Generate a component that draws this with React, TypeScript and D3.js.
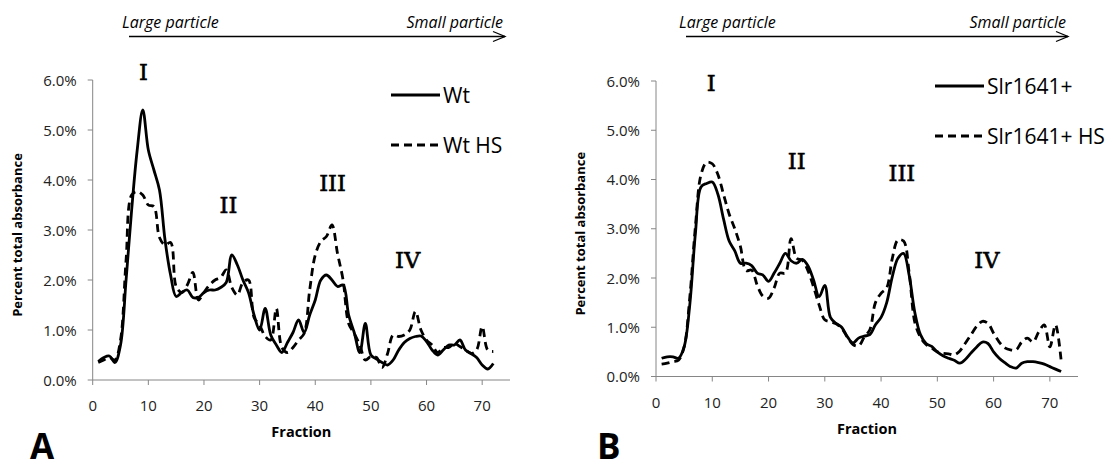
import React from "react";
import * as d3 from "d3";

const fractions = d3.range(1, 73);

const wt = [0.37,0.45,0.48,0.35,0.7,2.0,3.4,4.6,5.4,4.6,4.2,3.8,2.8,2.1,1.67,1.75,1.8,1.65,1.65,1.75,1.8,1.8,1.85,1.95,2.5,2.3,2.0,1.75,1.3,1.0,1.43,0.9,0.7,0.55,0.75,0.95,1.2,0.95,1.3,1.6,2.0,2.1,2.0,1.87,1.9,1.3,0.95,0.55,1.13,0.5,0.42,0.35,0.3,0.4,0.6,0.75,0.83,0.87,0.88,0.77,0.6,0.5,0.6,0.7,0.7,0.8,0.6,0.53,0.45,0.3,0.22,0.33];
const wtHS = [0.35,0.4,0.45,0.4,0.8,2.4,3.7,3.77,3.7,3.5,3.47,2.85,2.7,2.75,1.87,1.75,1.9,2.15,1.6,1.75,1.9,2.0,2.05,2.2,1.85,1.7,1.95,2.0,1.25,1.1,0.87,0.8,1.43,0.65,0.55,0.65,0.8,0.93,1.8,2.5,2.77,2.87,3.1,2.53,2.0,1.13,0.93,0.7,0.4,0.47,0.45,0.25,0.53,0.9,0.87,0.9,1.0,1.37,1.0,0.8,0.7,0.55,0.65,0.65,0.73,0.67,0.6,0.53,0.6,1.07,0.6,0.57];
const slr = [0.37,0.4,0.4,0.37,0.6,1.45,2.9,3.85,3.92,3.95,3.7,3.2,2.75,2.55,2.3,2.3,2.25,2.1,2.06,1.93,2.1,2.3,2.5,2.35,2.3,2.38,2.25,1.96,1.62,1.85,1.2,1.08,1.0,0.81,0.68,0.78,0.82,0.85,1.05,1.2,1.5,2.03,2.4,2.5,2.05,1.3,0.85,0.67,0.61,0.5,0.42,0.37,0.33,0.27,0.35,0.48,0.6,0.7,0.67,0.5,0.37,0.28,0.2,0.17,0.27,0.3,0.3,0.28,0.25,0.2,0.15,0.1];
const slrHS = [0.25,0.27,0.3,0.33,0.6,1.6,3.04,4.1,4.35,4.32,4.1,3.7,3.3,3.0,2.64,2.15,2.16,1.85,1.63,1.59,1.8,2.1,2.1,2.8,2.4,2.36,2.15,1.82,1.45,1.15,1.11,1.07,0.98,0.8,0.65,0.62,0.8,0.95,1.5,1.69,1.8,2.4,2.77,2.75,2.1,1.1,0.8,0.65,0.58,0.5,0.47,0.46,0.44,0.52,0.68,0.85,1.02,1.12,1.08,0.88,0.7,0.58,0.54,0.54,0.7,0.78,0.7,0.9,1.05,0.6,1.05,0.33];

const xTicks = [0, 10, 20, 30, 40, 50, 60, 70];
const yTicks = [0, 1, 2, 3, 4, 5, 6];
const romanA = [
  { label: "I", f: 9.1, v: 6.0 },
  { label: "II", f: 24.4, v: 3.34 },
  { label: "III", f: 43.1, v: 3.78 },
  { label: "IV", f: 56.6, v: 2.24 },
];
const romanB = [
  { label: "I", f: 9.8, v: 5.8 },
  { label: "II", f: 25, v: 4.21 },
  { label: "III", f: 43.7, v: 3.97 },
  { label: "IV", f: 58.8, v: 2.2 },
];

const sans = "'Open Sans', 'Noto Sans', sans-serif";
const serif = "'DejaVu Serif', 'Liberation Serif', serif";

type PanelProps = {
  x0: number; x1: number; y0: number; y6: number;
  solid: number[]; dashed: number[];
  solidLabel: string; dashedLabel: string;
  legendX: number; legendY: number;
  roman: { label: string; f: number; v: number }[];
  letter: string; letterX: number;
  arrowX0: number; arrowX1: number;
};

function Panel(p: PanelProps) {
  const x = d3.scaleLinear().domain([0, 75]).range([p.x0, p.x1]);
  const y = d3.scaleLinear().domain([0, 6]).range([p.y0, p.y6]);
  const line = d3
    .line<number>()
    .x((_, i) => x(fractions[i]))
    .y((d) => y(d))
    .curve(d3.curveCatmullRom.alpha(0.5));
  const axisColor = "#868686";
  const xMid = (x(0) + x(75)) / 2;
  return (
    <g>
      {/* arrow */}
      <line x1={p.arrowX0} x2={p.arrowX1} y1={36.5} y2={36.5} stroke="#000" strokeWidth={1.3} />
      <path d={`M${p.arrowX1 - 12},${31.5} L${p.arrowX1},${36.5} L${p.arrowX1 - 12},${41.5}`} fill="none" stroke="#000" strokeWidth={1.3} />
      <text x={p.arrowX0 - 7} y={28} fontFamily={sans} fontStyle="italic" fontSize={16} fill="#000">Large particle</text>
      <text x={p.arrowX1 - 2} y={28} fontFamily={sans} fontStyle="italic" fontSize={16} fill="#000" textAnchor="end">Small particle</text>

      {/* axes */}
      <line x1={x(0)} x2={x(0)} y1={y(0)} y2={y(6)} stroke={axisColor} strokeWidth={1} />
      <line x1={x(0)} x2={x(75)} y1={y(0)} y2={y(0)} stroke={axisColor} strokeWidth={1} />
      {yTicks.map((t) => (
        <g key={"y" + t}>
          <line x1={x(0) - 5} x2={x(0)} y1={y(t)} y2={y(t)} stroke={axisColor} />
          <text x={x(0) - 16} y={y(t) + 5.5} textAnchor="end" fontFamily={sans} fontSize={15} fill="#222">
            {t.toFixed(1) + "%"}
          </text>
        </g>
      ))}
      {xTicks.map((t) => (
        <g key={"x" + t}>
          <line x1={x(t)} x2={x(t)} y1={y(0)} y2={y(0) + 5} stroke={axisColor} />
          <text x={x(t)} y={y(0) + 31} textAnchor="middle" fontFamily={sans} fontSize={15} fill="#222">
            {t}
          </text>
        </g>
      ))}
      <text x={xMid} y={y(0) + 57} textAnchor="middle" fontFamily={sans} fontWeight="bold" fontSize={14.5} fill="#000">Fraction</text>
      <text
        transform={`translate(${x(0) - 71},${(y(0) + y(6)) / 2 + 5}) rotate(-90)`}
        textAnchor="middle" fontFamily={sans} fontWeight="bold" fontSize={13} fill="#000"
      >Percent total absorbance</text>

      {/* series */}
      <path d={line(p.dashed) || ""} fill="none" stroke="#000" strokeWidth={2.8} strokeDasharray="8,5" />
      <path d={line(p.solid) || ""} fill="none" stroke="#000" strokeWidth={2.8} />

      {/* roman labels */}
      {p.roman.map((r) => (
        <text key={r.label} x={x(r.f)} y={y(r.v)} textAnchor="middle" fontFamily={serif} fontSize={22.5} fill="#000" stroke="#000" strokeWidth={0.6}>{r.label}</text>
      ))}

      {/* legend */}
      <line x1={p.legendX} x2={p.legendX + 49} y1={p.legendY} y2={p.legendY} stroke="#000" strokeWidth={3} />
      <text x={p.legendX + 52} y={p.legendY + 8} fontFamily={sans} fontSize={21} fill="#000">{p.solidLabel}</text>
      <line x1={p.legendX} x2={p.legendX + 49} y1={p.legendY + 50} y2={p.legendY + 50} stroke="#000" strokeWidth={3} strokeDasharray="8,5" />
      <text x={p.legendX + 52} y={p.legendY + 58} fontFamily={sans} fontSize={21} fill="#000">{p.dashedLabel}</text>

      <text x={p.letterX} y={459} fontFamily={sans} fontWeight="bold" fontSize={35} fill="#000">{p.letter}</text>
    </g>
  );
}

export default function App() {
  return (
    <svg width={1113} height={469} style={{ position: "absolute", left: 0, top: 0, background: "#fff" }}>
      <rect width={1113} height={469} fill="#fff" />
      <Panel
        x0={92.7} x1={510} y0={380} y6={80}
        solid={wt} dashed={wtHS} solidLabel="Wt" dashedLabel="Wt HS"
        legendX={391} legendY={95}
        roman={romanA} letter="A" letterX={30}
        arrowX0={129} arrowX1={505}
      />
      <Panel
        x0={656} x1={1078} y0={376.5} y6={81}
        solid={slr} dashed={slrHS} solidLabel="Slr1641+" dashedLabel="Slr1641+ HS"
        legendX={935} legendY={86}
        roman={romanB} letter="B" letterX={597}
        arrowX0={686} arrowX1={1068}
      />
    </svg>
  );
}
